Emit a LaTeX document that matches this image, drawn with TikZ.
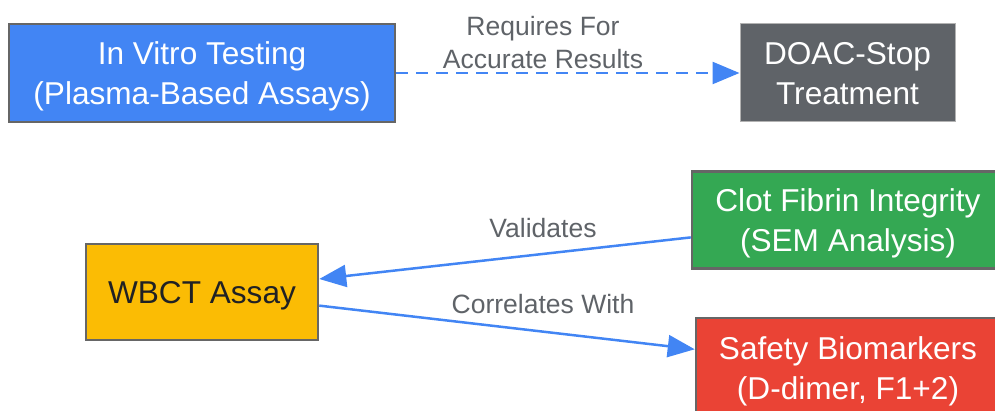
\documentclass[tikz,border=0pt]{standalone}
\usepackage{fontspec}
\setmainfont{Liberation Sans}
\usetikzlibrary{arrows.meta}
\definecolor{gblue}{HTML}{4285F4}
\definecolor{ggray}{HTML}{5F6368}
\definecolor{ggreen}{HTML}{34A853}
\definecolor{gred}{HTML}{EA4335}
\definecolor{gyellow}{HTML}{FBBC04}
\definecolor{gdark}{HTML}{202124}
\definecolor{gedge}{HTML}{666666}
% box text, lowered a little inside its box
\newcommand{\boxtxt}[1]{\raisebox{-4pt}[\height][\depth]{\begin{tabular}{@{}c@{}}#1\end{tabular}}}
\begin{document}
\begin{tikzpicture}[x=1pt,y=-1pt,
  box/.style={draw=gedge,line width=2.5pt,inner sep=0pt,text=white,
    font=\fontsize{31.6}{40}\selectfont},
  lbl/.style={text=ggray,align=center,inner sep=0pt,font=\fontsize{26.5}{33}\selectfont},
  link/.style={draw=gblue,line width=2.5pt,-{Triangle[length=27pt,width=22pt]}}]
\clip (0,0) rectangle (995,411);
\node[box,fill=gblue,minimum width=386pt,minimum height=98pt] (vitro) at (202,73)
  {\boxtxt{In Vitro Testing\\(Plasma-Based Assays)}};
\node[box,fill=ggray,draw=gray!60,line width=1pt,minimum width=215pt,minimum height=98pt] (doac) at (847.5,73)
  {\boxtxt{DOAC-Stop\\Treatment}};
\node[box,fill=gyellow,text=gdark,minimum width=232pt,minimum height=96pt] (wbct) at (202,292)
  {\boxtxt{WBCT Assay}};
\node[box,fill=ggreen,minimum width=312pt,minimum height=97pt] (clot) at (848,220)
  {\boxtxt{Clot Fibrin Integrity\\(SEM Analysis)}};
\node[box,fill=gred,minimum width=304pt,minimum height=98pt] (safety) at (848,367)
  {\boxtxt{Safety Biomarkers\\(D-dimer, F1+2)}};
% connectors
\draw[link,dash pattern=on 12pt off 8pt] (vitro) -- (doac);
\draw[link] (clot) -- (wbct);
\draw[link] (wbct) -- (safety);
% edge labels
\node[lbl] (lreq) at (543,43) {Requires For\\Accurate Results};
\node[lbl] (lval) at (543,228) {Validates};
\node[lbl] (lcor) at (543,304) {Correlates With};
\end{tikzpicture}
\end{document}
